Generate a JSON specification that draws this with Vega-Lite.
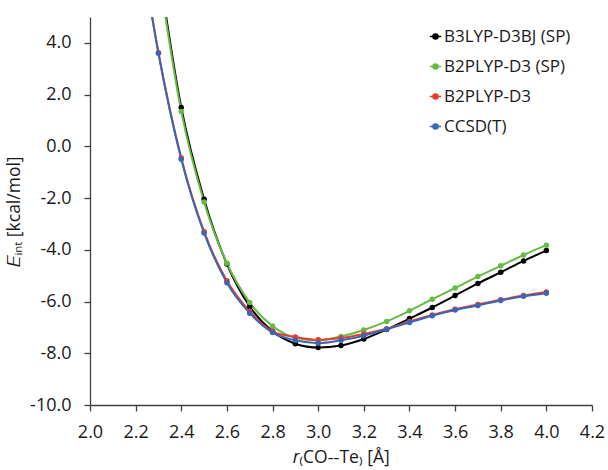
{
  "$schema": "https://vega.github.io/schema/vega-lite/v6.json",
  "autosize": {"type": "none"},
  "padding": {"left": 90, "top": 17, "right": 16, "bottom": 65},
  "width": 502,
  "height": 388,
  "background": "white",
  "config": {
    "view": {"stroke": null},
    "font": "Open Sans",
    "axis": {"grid": false, "labelFlush": false, "labelOverlap": false, "domainColor": "#404040", "tickColor": "#404040", "domainWidth": 1.3, "tickWidth": 1.3, "tickSize": 6, "labelFont": "Open Sans", "labelFontSize": 18, "labelColor": "#1a1a1a", "titleFont": "Open Sans", "titleFontSize": 17.5, "titleFontWeight": "normal", "titleColor": "#1a1a1a"}
  },
  "data": {"values": [
    {"m": "B3LYP-D3BJ (SP)", "r": 2.3, "E": 7.0},
    {"m": "B3LYP-D3BJ (SP)", "r": 2.4, "E": 1.5},
    {"m": "B3LYP-D3BJ (SP)", "r": 2.5, "E": -2.05},
    {"m": "B3LYP-D3BJ (SP)", "r": 2.6, "E": -4.55},
    {"m": "B3LYP-D3BJ (SP)", "r": 2.7, "E": -6.19},
    {"m": "B3LYP-D3BJ (SP)", "r": 2.8, "E": -7.15},
    {"m": "B3LYP-D3BJ (SP)", "r": 2.9, "E": -7.63},
    {"m": "B3LYP-D3BJ (SP)", "r": 3.0, "E": -7.78},
    {"m": "B3LYP-D3BJ (SP)", "r": 3.1, "E": -7.7},
    {"m": "B3LYP-D3BJ (SP)", "r": 3.2, "E": -7.45},
    {"m": "B3LYP-D3BJ (SP)", "r": 3.3, "E": -7.08},
    {"m": "B3LYP-D3BJ (SP)", "r": 3.4, "E": -6.66},
    {"m": "B3LYP-D3BJ (SP)", "r": 3.5, "E": -6.23},
    {"m": "B3LYP-D3BJ (SP)", "r": 3.6, "E": -5.77},
    {"m": "B3LYP-D3BJ (SP)", "r": 3.7, "E": -5.3},
    {"m": "B3LYP-D3BJ (SP)", "r": 3.8, "E": -4.87},
    {"m": "B3LYP-D3BJ (SP)", "r": 3.9, "E": -4.43},
    {"m": "B3LYP-D3BJ (SP)", "r": 4.0, "E": -4.03},
    {"m": "B2PLYP-D3 (SP)", "r": 2.3, "E": 6.8},
    {"m": "B2PLYP-D3 (SP)", "r": 2.4, "E": 1.35},
    {"m": "B2PLYP-D3 (SP)", "r": 2.5, "E": -2.15},
    {"m": "B2PLYP-D3 (SP)", "r": 2.6, "E": -4.52},
    {"m": "B2PLYP-D3 (SP)", "r": 2.7, "E": -6.04},
    {"m": "B2PLYP-D3 (SP)", "r": 2.8, "E": -6.95},
    {"m": "B2PLYP-D3 (SP)", "r": 2.9, "E": -7.4},
    {"m": "B2PLYP-D3 (SP)", "r": 3.0, "E": -7.5},
    {"m": "B2PLYP-D3 (SP)", "r": 3.1, "E": -7.35},
    {"m": "B2PLYP-D3 (SP)", "r": 3.2, "E": -7.1},
    {"m": "B2PLYP-D3 (SP)", "r": 3.3, "E": -6.77},
    {"m": "B2PLYP-D3 (SP)", "r": 3.4, "E": -6.36},
    {"m": "B2PLYP-D3 (SP)", "r": 3.5, "E": -5.91},
    {"m": "B2PLYP-D3 (SP)", "r": 3.6, "E": -5.48},
    {"m": "B2PLYP-D3 (SP)", "r": 3.7, "E": -5.03},
    {"m": "B2PLYP-D3 (SP)", "r": 3.8, "E": -4.62},
    {"m": "B2PLYP-D3 (SP)", "r": 3.9, "E": -4.2},
    {"m": "B2PLYP-D3 (SP)", "r": 4.0, "E": -3.82},
    {"m": "B2PLYP-D3", "r": 2.2, "E": 9.0},
    {"m": "B2PLYP-D3", "r": 2.3, "E": 3.62},
    {"m": "B2PLYP-D3", "r": 2.4, "E": -0.45},
    {"m": "B2PLYP-D3", "r": 2.5, "E": -3.3},
    {"m": "B2PLYP-D3", "r": 2.6, "E": -5.2},
    {"m": "B2PLYP-D3", "r": 2.7, "E": -6.38},
    {"m": "B2PLYP-D3", "r": 2.8, "E": -7.15},
    {"m": "B2PLYP-D3", "r": 2.9, "E": -7.37},
    {"m": "B2PLYP-D3", "r": 3.0, "E": -7.48},
    {"m": "B2PLYP-D3", "r": 3.1, "E": -7.41},
    {"m": "B2PLYP-D3", "r": 3.2, "E": -7.25},
    {"m": "B2PLYP-D3", "r": 3.3, "E": -7.05},
    {"m": "B2PLYP-D3", "r": 3.4, "E": -6.77},
    {"m": "B2PLYP-D3", "r": 3.5, "E": -6.52},
    {"m": "B2PLYP-D3", "r": 3.6, "E": -6.3},
    {"m": "B2PLYP-D3", "r": 3.7, "E": -6.11},
    {"m": "B2PLYP-D3", "r": 3.8, "E": -5.93},
    {"m": "B2PLYP-D3", "r": 3.9, "E": -5.77},
    {"m": "B2PLYP-D3", "r": 4.0, "E": -5.63},
    {"m": "CCSD(T)", "r": 2.2, "E": 9.0},
    {"m": "CCSD(T)", "r": 2.3, "E": 3.6},
    {"m": "CCSD(T)", "r": 2.4, "E": -0.5},
    {"m": "CCSD(T)", "r": 2.5, "E": -3.35},
    {"m": "CCSD(T)", "r": 2.6, "E": -5.27},
    {"m": "CCSD(T)", "r": 2.7, "E": -6.45},
    {"m": "CCSD(T)", "r": 2.8, "E": -7.2},
    {"m": "CCSD(T)", "r": 2.9, "E": -7.5},
    {"m": "CCSD(T)", "r": 3.0, "E": -7.61},
    {"m": "CCSD(T)", "r": 3.1, "E": -7.5},
    {"m": "CCSD(T)", "r": 3.2, "E": -7.32},
    {"m": "CCSD(T)", "r": 3.3, "E": -7.07},
    {"m": "CCSD(T)", "r": 3.4, "E": -6.81},
    {"m": "CCSD(T)", "r": 3.5, "E": -6.55},
    {"m": "CCSD(T)", "r": 3.6, "E": -6.33},
    {"m": "CCSD(T)", "r": 3.7, "E": -6.15},
    {"m": "CCSD(T)", "r": 3.8, "E": -5.96},
    {"m": "CCSD(T)", "r": 3.9, "E": -5.8},
    {"m": "CCSD(T)", "r": 4.0, "E": -5.68}
  ]},
  "encoding": {
    "x": {"field": "r", "type": "quantitative", "scale": {"domain": [2.0, 4.2], "nice": false, "zero": false},
      "axis": {"values": [2.0, 2.2, 2.4, 2.6, 2.8, 3.0, 3.2, 3.4, 3.6, 3.8, 4.0, 4.2], "format": ".1f", "labelPadding": 12, "title": "𝑟₍CO‑‑Te₎ [Å]", "titlePadding": 7}},
    "y": {"field": "E", "type": "quantitative", "scale": {"domain": [-10, 5], "nice": false, "zero": false},
      "axis": {"values": [-10, -8, -6, -4, -2, 0, 2, 4], "labelExpr": "replace(format(datum.value, '.1f'), '\u2212', '-')", "labelPadding": 13, "title": "𝐸ᵢₙₜ [kcal/mol]", "titlePadding": 6}},
    "color": {"field": "m", "type": "nominal",
      "scale": {"domain": ["B3LYP-D3BJ (SP)", "B2PLYP-D3 (SP)", "B2PLYP-D3", "CCSD(T)"], "range": ["#000000", "#66bb44", "#e83a2e", "#3a66b8"]},
      "legend": {"title": null, "orient": "none", "legendX": 337, "legendY": 11, "labelFont": "Open Sans", "labelFontSize": 17, "labelColor": "#1a1a1a", "rowPadding": 12, "labelOffset": 0,
        "symbolType": "M-1,0L1,0M-0.45,0a0.45,0.45 0 1,0 0.9,0a0.45,0.45 0 1,0 -0.9,0", "symbolSize": 130, "symbolStrokeWidth": 1.5,
        "encode": {"symbols": {"update": {"fill": {"scale": "color", "field": "value"}, "stroke": {"scale": "color", "field": "value"}, "opacity": {"value": 1}}}}},
      "sort": null
    }
  },
  "layer": [
    {"mark": {"type": "line", "interpolate": "monotone", "strokeWidth": 2, "clip": true}},
    {"mark": {"type": "circle", "size": 30, "opacity": 1, "clip": true}}
  ]
}
